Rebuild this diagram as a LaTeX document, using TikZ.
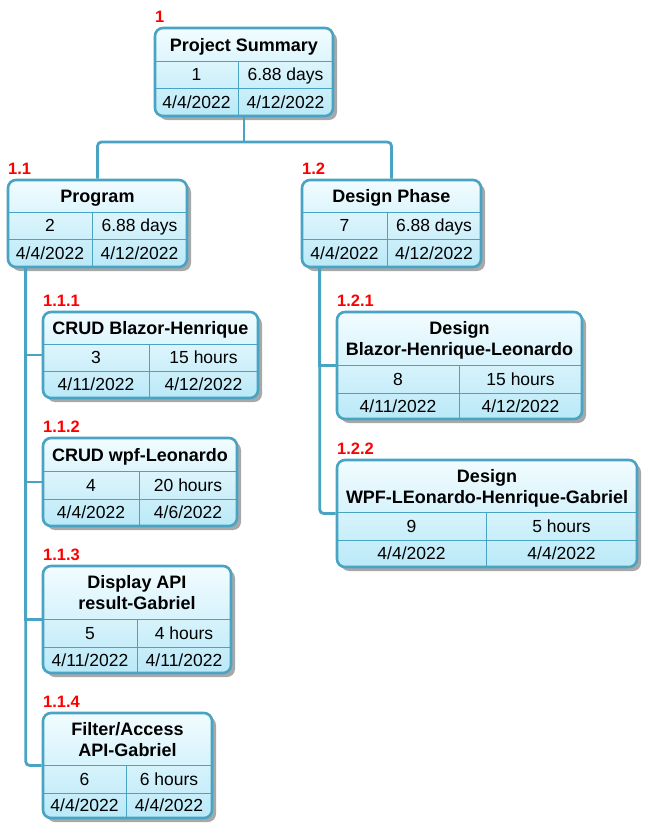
\documentclass[tikz,border=0pt]{standalone}
\usepackage{fontspec}
\setmainfont{Liberation Sans}
\usetikzlibrary{fit,calc}
\definecolor{wbsline}{RGB}{72,164,194}
\definecolor{wbstop}{RGB}{242,252,255}
\definecolor{wbsbot}{RGB}{186,233,248}
\definecolor{wbsshadow}{RGB}{168,168,168}
\definecolor{wbsred}{RGB}{255,0,0}
\tikzset{
 wbsframe/.style={draw=wbsline, line width=2.6pt, rounded corners=8pt, top color=wbstop, bottom color=wbsbot, inner sep=0pt},
 wbsshade/.style={fill=wbsshadow, rounded corners=8pt},
 wbsrule/.style={draw=wbsline, line width=1pt},
 wbstitle/.style={font=\fontsize{18}{21}\selectfont\bfseries, align=center, inner sep=0pt, text depth=0pt},
 wbscell/.style={font=\fontsize{17.5}{21}\selectfont, inner sep=0pt, text depth=0pt},
 wbslabel/.style={font=\fontsize{16.5}{18}\selectfont\bfseries, text=wbsred, anchor=base west, inner sep=0pt},
 conn/.style={draw=wbsline, line width=2.8pt, rounded corners=4pt},
}
\newcommand\wbsbox[8]{%
 \def\wN{#1}\def\wA{#2}\def\wB{#3}\def\wC{#4}\def\wD{#5}\def\wE{#6}\def\wF{#7}\def\wG{#8}%
 \fill[wbsshade] (#2+4,#3+4) rectangle (#4+4,#5+4);
 \node[wbsframe, fit={(#2,#3) (#4,#5)}] (#1) {};
 \draw[wbsrule] (#2,#6) -- (#4,#6) (#2,#7) -- (#4,#7) (#8,#6) -- (#8,#5);
}
\newcommand\wbstext[6]{%
 \node[wbstitle] (\wN-t) at ({(\wA+\wC)/2},{(\wB+\wE)/2}) {#1};
 \node[wbscell] (\wN-id) at ({(\wA+\wG)/2},{(\wE+\wF)/2}) {#2};
 \node[wbscell] (\wN-du) at ({(\wG+\wC)/2},{(\wE+\wF)/2}) {#3};
 \node[wbscell] (\wN-st) at ({(\wA+\wG)/2},{(\wF+\wD)/2}) {#4};
 \node[wbscell] (\wN-en) at ({(\wG+\wC)/2},{(\wF+\wD)/2}) {#5};
 \node[wbslabel] (\wN-l) at (\wA,\wB-6) {#6};
}
\begin{document}
\begin{tikzpicture}[x=1pt,y=-1pt]
\useasboundingbox (0,0) rectangle (651,836);

\wbsbox{ps}{155}{28}{333}{116}{61}{88}{238}
\wbstext{Project Summary}{1}{6.88 days}{4/4/2022}{4/12/2022}{1}

\wbsbox{prog}{8}{180}{187}{267}{212}{239}{92}
\wbstext{Program}{2}{6.88 days}{4/4/2022}{4/12/2022}{1.1}

\wbsbox{des}{302}{180}{481}{267}{212}{239}{387}
\wbstext{Design Phase}{7}{6.88 days}{4/4/2022}{4/12/2022}{1.2}

\wbsbox{c1}{43}{312}{258}{398}{344}{371}{149}
\wbstext{CRUD Blazor-Henrique}{3}{15 hours}{4/11/2022}{4/12/2022}{1.1.1}

\wbsbox{c2}{43}{438}{237}{526}{471}{499}{139}
\wbstext{CRUD wpf-Leonardo}{4}{20 hours}{4/4/2022}{4/6/2022}{1.1.2}

\wbsbox{c3}{43}{566}{231}{673}{619}{647}{137}
\wbstext{Display API\\result-Gabriel}{5}{4 hours}{4/11/2022}{4/11/2022}{1.1.3}

\wbsbox{c4}{43}{713}{212}{818}{765}{793}{126}
\wbstext{Filter/Access\\API-Gabriel}{6}{6 hours}{4/4/2022}{4/4/2022}{1.1.4}

\wbsbox{d1}{337}{312}{582}{419}{365}{393}{459}
\wbstext{Design\\Blazor-Henrique-Leonardo}{8}{15 hours}{4/11/2022}{4/12/2022}{1.2.1}

\wbsbox{d2}{337}{460}{637}{567}{512}{540}{486}
\wbstext{Design\\WPF-LEonardo-Henrique-Gabriel}{9}{5 hours}{4/4/2022}{4/4/2022}{1.2.2}

% connectors
\coordinate (jn) at (244,142);
\draw[conn] (ps.south) -- (jn);
\draw[conn] (prog.north) |- (jn) -| (des.north);

\draw[conn] ([xshift=19pt]prog.south west) |- (c4.west);
\draw[conn, sharp corners] ([xshift=19pt]prog.south west) |- (c1.west);
\draw[conn, sharp corners] ([xshift=19pt]prog.south west) |- (c2.west);
\draw[conn, sharp corners] ([xshift=19pt]prog.south west) |- (c3.west);

\draw[conn] ([xshift=19pt]des.south west) |- (d2.west);
\draw[conn, sharp corners] ([xshift=19pt]des.south west) |- (d1.west);
\end{tikzpicture}
\end{document}
